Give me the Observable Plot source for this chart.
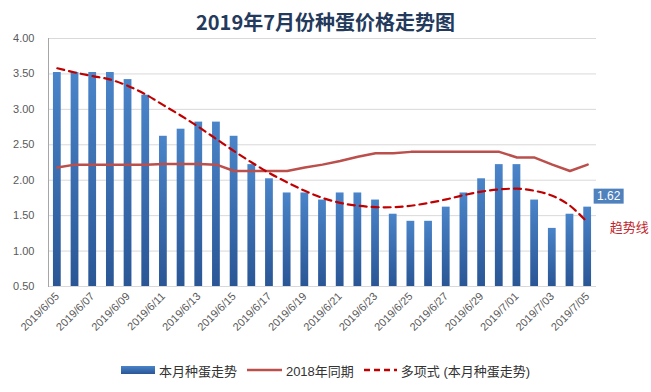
<!DOCTYPE html>
<html><head><meta charset="utf-8">
<script src="https://cdn.jsdelivr.net/npm/d3@7"></script>
<script src="https://cdn.jsdelivr.net/npm/@observablehq/plot@0.6"></script>
<style>
body{margin:0;background:#fff;}
#wrap{width:651px;height:392px;position:relative;overflow:hidden;background:#fff}
#title{height:31px;box-sizing:border-box;padding-top:12px;line-height:20px;text-align:center;font-weight:bold;font-size:20px;font-family:"Noto Sans CJK SC","Liberation Sans",sans-serif;color:#243a5c;white-space:nowrap}
#legend{display:flex;justify-content:center;align-items:center;height:18px;font-family:"Liberation Sans","Noto Sans CJK SC",sans-serif;font-size:13px;color:#333}
#legend .sw{display:inline-block;margin-right:4px}
#legend .item{display:flex;align-items:center;margin:0 5px}
</style></head>
<body><div id="wrap">
<div id="title">2019年7月份种蛋价格走势图</div>
<div id="chart"></div>
<div id="legend"></div>
</div>
<script>
const dates = ["2019/6/05","2019/6/06","2019/6/07","2019/6/08","2019/6/09","2019/6/10","2019/6/11","2019/6/12","2019/6/13","2019/6/14","2019/6/15","2019/6/16","2019/6/17","2019/6/18","2019/6/19","2019/6/20","2019/6/21","2019/6/22","2019/6/23","2019/6/24","2019/6/25","2019/6/26","2019/6/27","2019/6/28","2019/6/29","2019/6/30","2019/7/01","2019/7/02","2019/7/03","2019/7/04","2019/7/05"];
const price2019 = [3.52,3.52,3.52,3.52,3.42,3.20,2.62,2.72,2.82,2.82,2.62,2.22,2.02,1.82,1.82,1.72,1.82,1.82,1.72,1.52,1.42,1.42,1.62,1.82,2.02,2.22,2.22,1.72,1.32,1.52,1.62];
const price2018 = [2.18,2.22,2.22,2.22,2.22,2.22,2.23,2.23,2.23,2.22,2.13,2.13,2.13,2.13,2.18,2.22,2.27,2.33,2.38,2.38,2.40,2.40,2.40,2.40,2.40,2.40,2.32,2.32,2.22,2.13,2.22];
const trend = [3.58,3.52,3.47,3.42,3.33,3.21,3.06,2.91,2.75,2.58,2.41,2.25,2.10,1.97,1.85,1.75,1.68,1.64,1.62,1.62,1.64,1.68,1.73,1.79,1.84,1.87,1.88,1.85,1.78,1.64,1.40];
const yTicks = [0.5,1.0,1.5,2.0,2.5,3.0,3.5,4.0];
const xTicks = dates.filter((d,i)=>i%2===0);
const seriesNames = ["本月种蛋走势","2018年同期","多项式 (本月种蛋走势)"];
const lastLabel = "1.62";
const trendLabel = "趋势线";

const data = dates.map((d,i)=>({date:d, v:price2019[i], l:price2018[i], t:trend[i]}));
const last = data[data.length-1];

const boxSymbol = {draw(ctx){ ctx.rect(-15,-7.5,30,15); }};

const plot = Plot.plot({
  width:651, height:330,
  marginLeft:48, marginRight:55, marginTop:7, marginBottom:75,
  style:{fontFamily:"Liberation Sans, Noto Sans CJK SC, sans-serif", fontSize:"11px", color:"#595959", background:"transparent", overflow:"visible"},
  x:{domain:dates, paddingInner:0.56, paddingOuter:0.28, round:false, label:null},
  y:{domain:[yTicks[0], yTicks[yTicks.length-1]], label:null},
  marks:[
    Plot.gridY(yTicks, {stroke:"#d9d9d9", strokeOpacity:1}),
    Plot.barY(data, {x:"date", y1:yTicks[0], y2:"v", fill:"url(#barGrad)"}),
    Plot.line(data, {x:"date", y:"l", stroke:"#bb4f4b", strokeWidth:2.5}),
    Plot.line(data, {x:"date", y:"t", stroke:"#c00000", strokeWidth:2.2, strokeDasharray:"7,5", curve:"catmull-rom"}),
    Plot.frame({anchor:"left", stroke:"#a6a6a6"}),
    Plot.axisY(yTicks, {tickSize:0, tickPadding:14, tickFormat:d=>d.toFixed(2), label:null, fill:"#595959"}),
    Plot.axisX(xTicks, {tickSize:0, tickRotate:-45, tickPadding:8, label:null, fill:"#595959"}),
    Plot.dot([last], {x:"date", y:"v", symbol:boxSymbol, fill:"#4f81bd", stroke:null, dx:21, dy:-11, r:5}),
    Plot.text([last], {x:"date", y:"v", text:()=>lastLabel, fill:"#fff", dx:21, dy:-11, fontSize:12}),
    Plot.text([last], {x:"date", y:"t", text:()=>trendLabel, fill:"#c0272d", dx:22, dy:5, textAnchor:"start", fontSize:13, fontFamily:"Noto Sans CJK SC"})
  ]
});

const svg = d3.select(plot);
const defs = svg.insert("defs", ":first-child");
const g = defs.append("linearGradient").attr("id","barGrad").attr("x1",0).attr("y1",0).attr("x2",0).attr("y2",1);
g.append("stop").attr("offset","0%").attr("stop-color","#4a84c9");
g.append("stop").attr("offset","100%").attr("stop-color","#2a5695");
document.getElementById("chart").appendChild(plot);

// legend
const leg = document.getElementById("legend");
const sw = [
  `<svg class="sw" width="34" height="8"><rect width="34" height="8" fill="url(#barGrad)"/></svg>`,
  `<svg class="sw" width="35" height="4"><line x1="0" x2="35" y1="2" y2="2" stroke="#bb4f4b" stroke-width="2.5"/></svg>`,
  `<svg class="sw" width="33" height="4"><line x1="0" x2="33" y1="2" y2="2" stroke="#c00000" stroke-width="2.5" stroke-dasharray="6,4"/></svg>`
];
seriesNames.forEach((n,i)=>{
  const it = document.createElement("div");
  it.className="item";
  it.innerHTML = sw[i] + `<span>${n}</span>`;
  leg.appendChild(it);
});
</script>
</body></html>
